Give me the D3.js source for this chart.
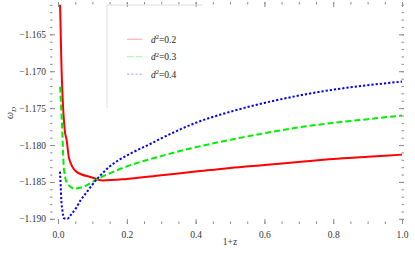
<!DOCTYPE html>
<html>
<head>
<meta charset="utf-8">
<script src="https://cdn.jsdelivr.net/npm/d3@7"></script>
<style>
  body { margin: 0; background: #fff; }
</style>
</head>
<body>
<div id="chart"></div>
<script>
// data: x = 1+z, y = omega_D
var seriesNames = ["0.2", "0.3", "0.4"];
var redX = [0.006, 0.0096, 0.0196, 0.025, 0.032, 0.053, 0.099, 0.13, 0.2, 0.3, 0.4, 0.5, 0.6, 0.7, 0.8, 0.9, 1.0];
var redY = [-1.1610, -1.1685, -1.1780, -1.1793, -1.1818, -1.1836, -1.1844, -1.1848, -1.1846, -1.1841, -1.1836, -1.1831, -1.1827, -1.1823, -1.1819, -1.1816, -1.1813];
var greenX = [0.006, 0.011, 0.0175, 0.027, 0.047, 0.071, 0.115, 0.2, 0.3, 0.4, 0.5, 0.6, 0.7, 0.8, 0.9, 1.0];
var greenY = [-1.1721, -1.1766, -1.1834, -1.1852, -1.1859, -1.1857, -1.1846, -1.1829, -1.1815, -1.1803, -1.1793, -1.1784, -1.1776, -1.1770, -1.1765, -1.1760];
var blueX = [0.0058, 0.0079, 0.0096, 0.0126, 0.0175, 0.027, 0.037, 0.052, 0.066, 0.081, 0.0955, 0.115, 0.129, 0.149, 0.178, 0.217, 0.266, 0.3, 0.4, 0.5, 0.6, 0.7, 0.8, 0.9, 1.0];
var blueY = [-1.1836, -1.18565, -1.18745, -1.1888, -1.18993, -1.1900, -1.18949, -1.18858, -1.18745, -1.18654, -1.18565, -1.18451, -1.18384, -1.18294, -1.1820, -1.1810, -1.1799, -1.1791, -1.1770, -1.1755, -1.1743, -1.1733, -1.1725, -1.1719, -1.1714];
var xTicks = [0.0, 0.2, 0.4, 0.6, 0.8, 1.0];
var yTicks = [-1.165, -1.170, -1.175, -1.180, -1.185, -1.190];

var serif = "Liberation Serif";

var svgWidth = 415, svgHeight = 260;
var margin = { top: 2, left: 50, right: 11, bottom: 36 };
var width = svgWidth - margin.left - margin.right;
var height = svgHeight - margin.top - margin.bottom;

var svg = d3.select("#chart").append("svg")
    .attr("width", svgWidth)
    .attr("height", svgHeight)
    .attr("font-family", serif);

var g = svg.append("g")
    .attr("transform", `translate(${margin.left}, ${margin.top})`);

var x = d3.scaleLinear().domain([-0.0233, 1.0058]).range([0, width]);
var y = d3.scaleLinear().domain([-1.19070, -1.16062]).range([height, 0]);

var frameColor = "#8c8c8c";

// clip curves to the frame
g.append("clipPath").attr("id", "clip")
    .append("rect").attr("width", width).attr("height", height);

// minor ticks
var xMinor = d3.range(0, 1.0001, 0.05);
var yMinor = d3.range(-1.190, -1.1605, 0.001);

function styleAxis(sel) {
    sel.attr("font-family", serif).attr("font-size", 9.5);
    sel.select(".domain").remove();
    sel.selectAll("line").attr("stroke", frameColor);
    sel.selectAll("text").attr("fill", "#333").attr("font-family", serif);
}

g.append("g").attr("transform", `translate(0, ${height})`)
    .call(d3.axisBottom(x).tickValues(xMinor).tickSize(-2.5).tickFormat(""))
    .call(styleAxis);
g.append("g")
    .call(d3.axisTop(x).tickValues(xMinor).tickSize(-2.5).tickFormat(""))
    .call(styleAxis);
g.append("g")
    .call(d3.axisLeft(y).tickValues(yMinor).tickSize(-2.5).tickFormat(""))
    .call(styleAxis);
g.append("g").attr("transform", `translate(${width}, 0)`)
    .call(d3.axisRight(y).tickValues(yMinor).tickSize(-2.5).tickFormat(""))
    .call(styleAxis);

// major ticks
g.append("g").attr("transform", `translate(0, ${height})`)
    .call(d3.axisBottom(x).tickValues(xTicks).tickSize(-5).tickPadding(7).tickFormat(d3.format(".1f")))
    .call(styleAxis);
g.append("g")
    .call(d3.axisTop(x).tickValues(xTicks).tickSize(-5).tickFormat(""))
    .call(styleAxis);
g.append("g")
    .call(d3.axisLeft(y).tickValues(yTicks).tickSize(-5).tickPadding(4).tickFormat(d3.format(".3f")))
    .call(styleAxis);
g.append("g").attr("transform", `translate(${width}, 0)`)
    .call(d3.axisRight(y).tickValues(yTicks).tickSize(-5).tickFormat(""))
    .call(styleAxis);

// legend box (clipped by the frame like in the original)
g.append("path")
    .attr("d", "M57,106V3H153")
    .attr("fill", "none")
    .attr("stroke", "#dddddd")
    .attr("stroke-width", 1);

var seriesList = [
    { xs: redX, ys: redY, color: "#ff0000", dash: null },
    { xs: greenX, ys: greenY, color: "#00ee00", dash: "6,3" },
    { xs: blueX, ys: blueY, color: "#0000ee", dash: "2.2,2" }
];

var line = d3.line()
    .x(d => x(d[0]))
    .y(d => y(d[1]))
    .curve(d3.curveMonotoneX);

seriesList.forEach(function(s) {
    var pts = s.xs.map((v, i) => [v, s.ys[i]]);
    g.append("path")
        .datum(pts)
        .attr("clip-path", "url(#clip)")
        .attr("fill", "none")
        .attr("stroke", s.color)
        .attr("stroke-width", 2)
        .attr("stroke-dasharray", s.dash)
        .attr("d", line);
});

// legend entries
var legend = g.append("g").attr("transform", "translate(77, 37.3)");
seriesList.forEach(function(s, i) {
    var row = legend.append("g").attr("transform", `translate(0, ${i * 17.4})`);
    row.append("line")
        .attr("x1", 0).attr("x2", 15)
        .attr("stroke", s.color)
        .attr("stroke-opacity", 0.3)
        .attr("stroke-width", 1.2)
        .attr("stroke-dasharray", s.dash);
    var t = row.append("text")
        .attr("x", 24).attr("y", 3.5)
        .attr("font-size", 9.5)
        .attr("fill", "#222");
    t.append("tspan").attr("font-style", "italic").text("d");
    t.append("tspan").attr("dy", -3.5).attr("font-size", 6.5).text("2");
    t.append("tspan").attr("dy", 3.5).text("=" + seriesNames[i]);
});

// axis labels
svg.append("text")
    .attr("x", margin.left + x(0.5))
    .attr("y", 245)
    .attr("text-anchor", "middle")
    .attr("font-size", 9.5)
    .attr("fill", "#333")
    .text("1+z");

var yl = svg.append("text")
    .attr("transform", "translate(13, 113) rotate(-90)")
    .attr("text-anchor", "middle")
    .attr("font-size", 10)
    .attr("fill", "#333");
yl.append("tspan").attr("font-style", "italic").text("ω");
yl.append("tspan").attr("dy", 2.5).attr("font-size", 7).attr("font-style", "italic").text("D");
</script>
</body>
</html>
